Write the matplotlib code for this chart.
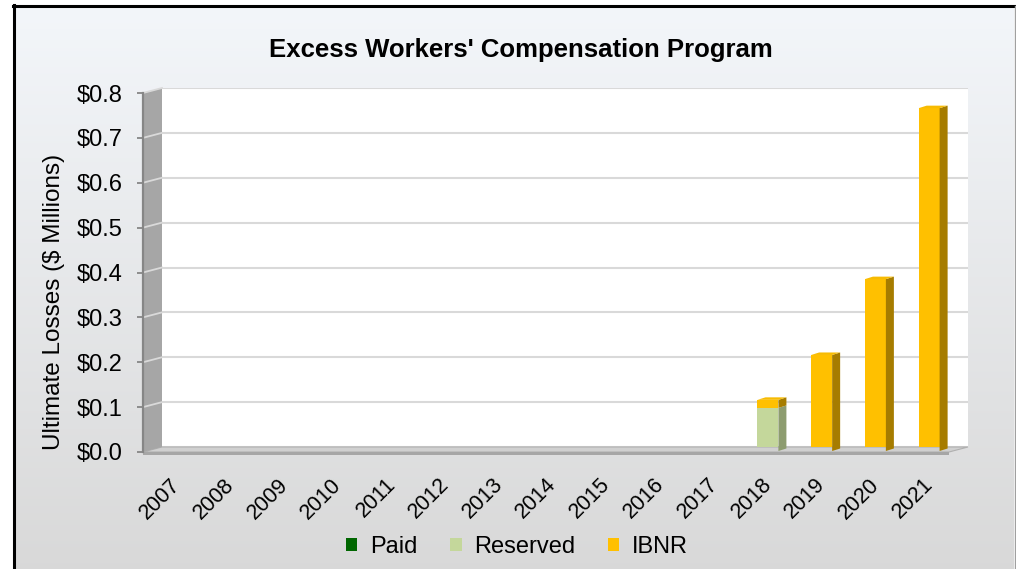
import numpy as np
import matplotlib
matplotlib.use("Agg")
import matplotlib.pyplot as plt
from matplotlib.patches import Polygon
from matplotlib.lines import Line2D
from matplotlib.transforms import ScaledTranslation, IdentityTransform

plt.rcParams['font.family'] = ['Liberation Sans', 'DejaVu Sans']

# data
years = ['2007', '2008', '2009', '2010', '2011', '2012', '2013', '2014',
         '2015', '2016', '2017', '2018', '2019', '2020', '2021']
paid = [0, 0, 0, 0, 0, 0, 0, 0, 0, 0, 0, 0, 0, 0, 0]
reserved = [0, 0, 0, 0, 0, 0, 0, 0, 0, 0, 0, 0.096, 0, 0, 0]
ibnr = [0, 0, 0, 0, 0, 0, 0, 0, 0, 0, 0, 0.018, 0.214, 0.383, 0.764]
series = ['Paid', 'Reserved', 'IBNR']
front_cols = ['#006600', '#c4d79b', '#ffc000']
side_cols = ['#004400', '#8d9c6f', '#a67c00']
top_cols = ['#1a7a1a', '#d3e2b2', '#f7bb02']

W, H = 1016, 569
fig = plt.figure(figsize=(W / 100, H / 100), dpi=100)
fig.patch.set_facecolor('white')


def rect(x0, y0, x1, y1):
    # image pixel box -> figure fraction [l, b, w, h]
    return [x0 / W, 1 - y1 / H, (x1 - x0) / W, (y1 - y0) / H]


# background with gradient
bg = fig.add_axes(rect(15, 7, 1014, 569))
grad = np.linspace(0, 1, 256).reshape(-1, 1)
top_c = np.array([0.953, 0.965, 0.98])
bot_c = np.array([0.85, 0.85, 0.85])
img = top_c[None, None, :] * (1 - grad[:, :, None]) + bot_c[None, None, :] * grad[:, :, None]
bg.imshow(img, aspect='auto', extent=[0, 1, 0, 1])
bg.axis('off')
fig.add_artist(Line2D([14 / W, 14 / W], [0, 1 - 5 / H], color='black', lw=2.2))
fig.add_artist(Line2D([13 / W, 1014 / W], [1 - 6 / H, 1 - 6 / H], color='black', lw=2.2))
fig.add_artist(Line2D([1014.5 / W, 1014.5 / W], [0, 1 - 6 / H], color='#a0a0a0', lw=1))

# back plane
ax = fig.add_axes(rect(162, 88, 968, 447))
ax.set_facecolor('white')
ax.set_xlim(-0.5, 14.5)
ax.set_ylim(0, 0.8)
ax.set_autoscale_on(False)
ax.set_yticks(np.arange(0, 0.81, 0.1))
ax.set_xticks([])
ax.tick_params(length=0, labelleft=False)
ax.yaxis.grid(True, color='#d9d9d9', lw=1.5)
for s in ax.spines.values():
    s.set_visible(False)

# front plane (ticks and labels)
axf = fig.add_axes(rect(143, 93, 949, 452))
axf.set_facecolor('none')
axf.set_xlim(-0.5, 14.5)
axf.set_ylim(0, 0.8)
for k in ['top', 'right', 'bottom']:
    axf.spines[k].set_visible(False)
axf.spines['left'].set_color('#868686')
axf.spines['left'].set_linewidth(1.6)
yt = np.arange(0, 0.81, 0.1)
axf.set_yticks(yt, [f'${v:.1f}' for v in yt], fontsize=17)
axf.tick_params(axis='y', length=4.5, width=1.3, color='#868686', pad=10)
axf.set_xticks(range(len(years)), years, fontsize=15.5, rotation=45,
               ha='right', va='top', rotation_mode='anchor')
axf.tick_params(axis='x', length=0, pad=16)
axf.set_ylabel('Ultimate Losses ($ Millions)', fontsize=17.5)
axf.yaxis.set_label_coords(-0.097, 0.418)

fig.canvas.draw()
b0 = ax.transAxes.transform((0, 0))
b1 = ax.transAxes.transform((1, 1))
f0 = axf.transAxes.transform((0, 0))
f1 = axf.transAxes.transform((1, 1))
ident = IdentityTransform()

# wall
wall = Polygon([(f0[0], f0[1]), (b0[0], b0[1]), (b0[0], b1[1]), (f0[0], f1[1])],
               closed=True, facecolor='#a6a6a6', edgecolor='none',
               transform=ident, clip_on=False, zorder=3)
ax.add_artist(wall)
for v in yt[1:]:
    yb = ax.transData.transform((0, v))[1]
    yf = axf.transData.transform((0, v))[1]
    ax.add_artist(Line2D([f0[0], b0[0]], [yf, yb], color='#d9d9d9', lw=1.3,
                         transform=ident, clip_on=False, zorder=3.1))

# floor
floor = Polygon([(f0[0], f0[1]), (b0[0], b0[1]), (b1[0], b0[1]), (f1[0], f0[1])],
                closed=True, facecolor='#d0d0d0', edgecolor='#b0b0b0', lw=0.8,
                transform=ident, clip_on=False, zorder=2.5)
ax.add_artist(floor)
strip = Polygon([(f0[0], f0[1]), (f1[0], f0[1]), (f1[0], f0[1] - 3), (f0[0], f0[1] - 3)],
                closed=True, facecolor='#a6a6a6', edgecolor='none',
                transform=ident, clip_on=False, zorder=2.5)
ax.add_artist(strip)

# bars
shift = ax.transData + ScaledTranslation(-12 / 100, -4 / 100, fig.dpi_scale_trans)
x = np.arange(len(years))
bottom = np.zeros(len(years))
conts = []
dx, dy = 8, 2.5
data = [paid, reserved, ibnr]
for i, vals in enumerate(data):
    vals = np.array(vals)
    c = ax.bar(x, vals, width=0.39, bottom=bottom, color=front_cols[i],
               transform=shift, zorder=4, label=series[i])
    conts.append(c)
    bottom = bottom + vals

totals = bottom
for i, c in enumerate(conts):
    vals = np.array(data[i])
    below = sum(np.array(d) for d in data[:i]) if i > 0 else np.zeros(len(years))
    for j, r in enumerate(c.patches):
        if vals[j] <= 0:
            continue
        v = r.get_verts()
        xl, xr = v[:, 0].min(), v[:, 0].max()
        yb, ytp = v[:, 1].min(), v[:, 1].max()
        side = Polygon([(xr, yb), (xr, ytp), (xr + dx, ytp + dy), (xr + dx, yb + dy)],
                       closed=True, facecolor=side_cols[i], edgecolor='none',
                       transform=ident, clip_on=False, zorder=4)
        ax.add_artist(side)
        if np.isclose(below[j] + vals[j], totals[j]):
            top = Polygon([(xl, ytp), (xr, ytp), (xr + dx, ytp + dy), (xl + dx, ytp + dy)],
                          closed=True, facecolor=top_cols[i], edgecolor='none',
                          transform=ident, clip_on=False, zorder=4)
            ax.add_artist(top)

fig.suptitle("Excess Workers' Compensation Program", fontsize=18.5,
             fontweight='bold', x=521 / W, y=1 - 50 / H, va='center')

fig.legend(handles=conts, labels=series, loc='center', ncol=3,
           bbox_to_anchor=(517 / W, 1 - 547 / H), frameon=False, fontsize=17,
           handlelength=0.5, handleheight=0.5, handletextpad=0.55,
           columnspacing=1.35)

fig.savefig('out.png', dpi=100)
